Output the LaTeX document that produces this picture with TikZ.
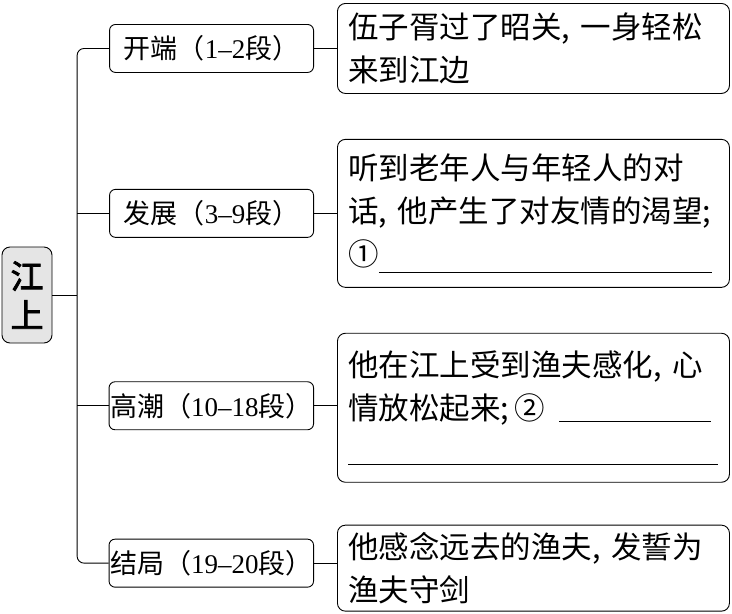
\documentclass[tikz,border=0pt]{standalone}
\usepackage{fontspec}
\newfontfamily\cjk{Noto Sans CJK SC}[AutoFakeBold=2.5]
\newfontfamily\digitfont{Liberation Serif}[Ligatures=TeX]
\usetikzlibrary{positioning}
\newcommand\dg[1]{{\digitfont #1}}

\begin{document}
\begin{tikzpicture}[x=1pt,y=1pt,
  node distance=45pt and 23pt,
  stagebox/.style={draw,rounded corners=6pt,line width=0.9pt,minimum width=204pt,minimum height=48pt,inner xsep=1pt,font=\cjk\fontsize{27}{32}\selectfont},
  textbox/.style={draw,rounded corners=8pt,line width=0.9pt,text width=370pt,inner xsep=11pt,align=left,font=\cjk\fontsize{30.5}{43}\selectfont},
  rootbox/.style={draw,rounded corners=8pt,line width=0.9pt,fill=black!10,minimum width=50pt,minimum height=96pt,inner sep=2pt,align=center,font=\cjk\bfseries\fontsize{33}{39}\selectfont},
  link/.style={line width=0.9pt}
]
\useasboundingbox (0,0) rectangle (732,-614);
% right column
\node[textbox,minimum height=90pt,anchor=north west] (c1) at (337,-3) {伍子胥过了昭关,\ 一身轻松\\来到江边};
\node[textbox,minimum height=148pt,below=of c1] (c2) {听到老年人与年轻人的对\\\mbox{话,\ 他产生了对友情的渴望;}\\①\rule[-8pt]{333pt}{0.9pt}};
\node[textbox,minimum height=149pt,below=of c2] (c3) {他在江上受到渔夫感化,\ 心\\情放松起来;\,②\hspace{14pt}\rule[-2pt]{152pt}{0.9pt}\\\rule[-2pt]{370pt}{0.9pt}};
\node[textbox,minimum height=86pt,below=42pt of c3] (c4) {他感念远去的渔夫,\ 发誓为\\渔夫守剑};
% stages
\node[stagebox,left=of c1] (s1) {开端（\dg{1--2}段）};
\node[stagebox,left=of c2] (s2) {发展（\dg{3--9}段）};
\node[stagebox,left=of c3,yshift=2pt] (s3) {高潮（\dg{10--18}段）};
\node[stagebox,left=of c4,yshift=5pt] (s4) {结局（\dg{19--20}段）};
% root
\coordinate (trunk) at ([xshift=-32pt]s1.west);
\node[rootbox] (root) at (27,-295) {江\\上};
% connectors
\draw[link,rounded corners=7pt] (s1.west) -- (s1.west -| trunk) -- (s4.west -| trunk) -- (s4.west);
\draw[link] (s2.west) -- (s2.west -| trunk);
\draw[link] (s3.west) -- (s3.west -| trunk);
\draw[link] (root.east) -- (root.east -| trunk);
\foreach \i in {1,...,4}
  \draw[link] (s\i.east) -- (s\i.east -| c\i.west);
\end{tikzpicture}
\end{document}
